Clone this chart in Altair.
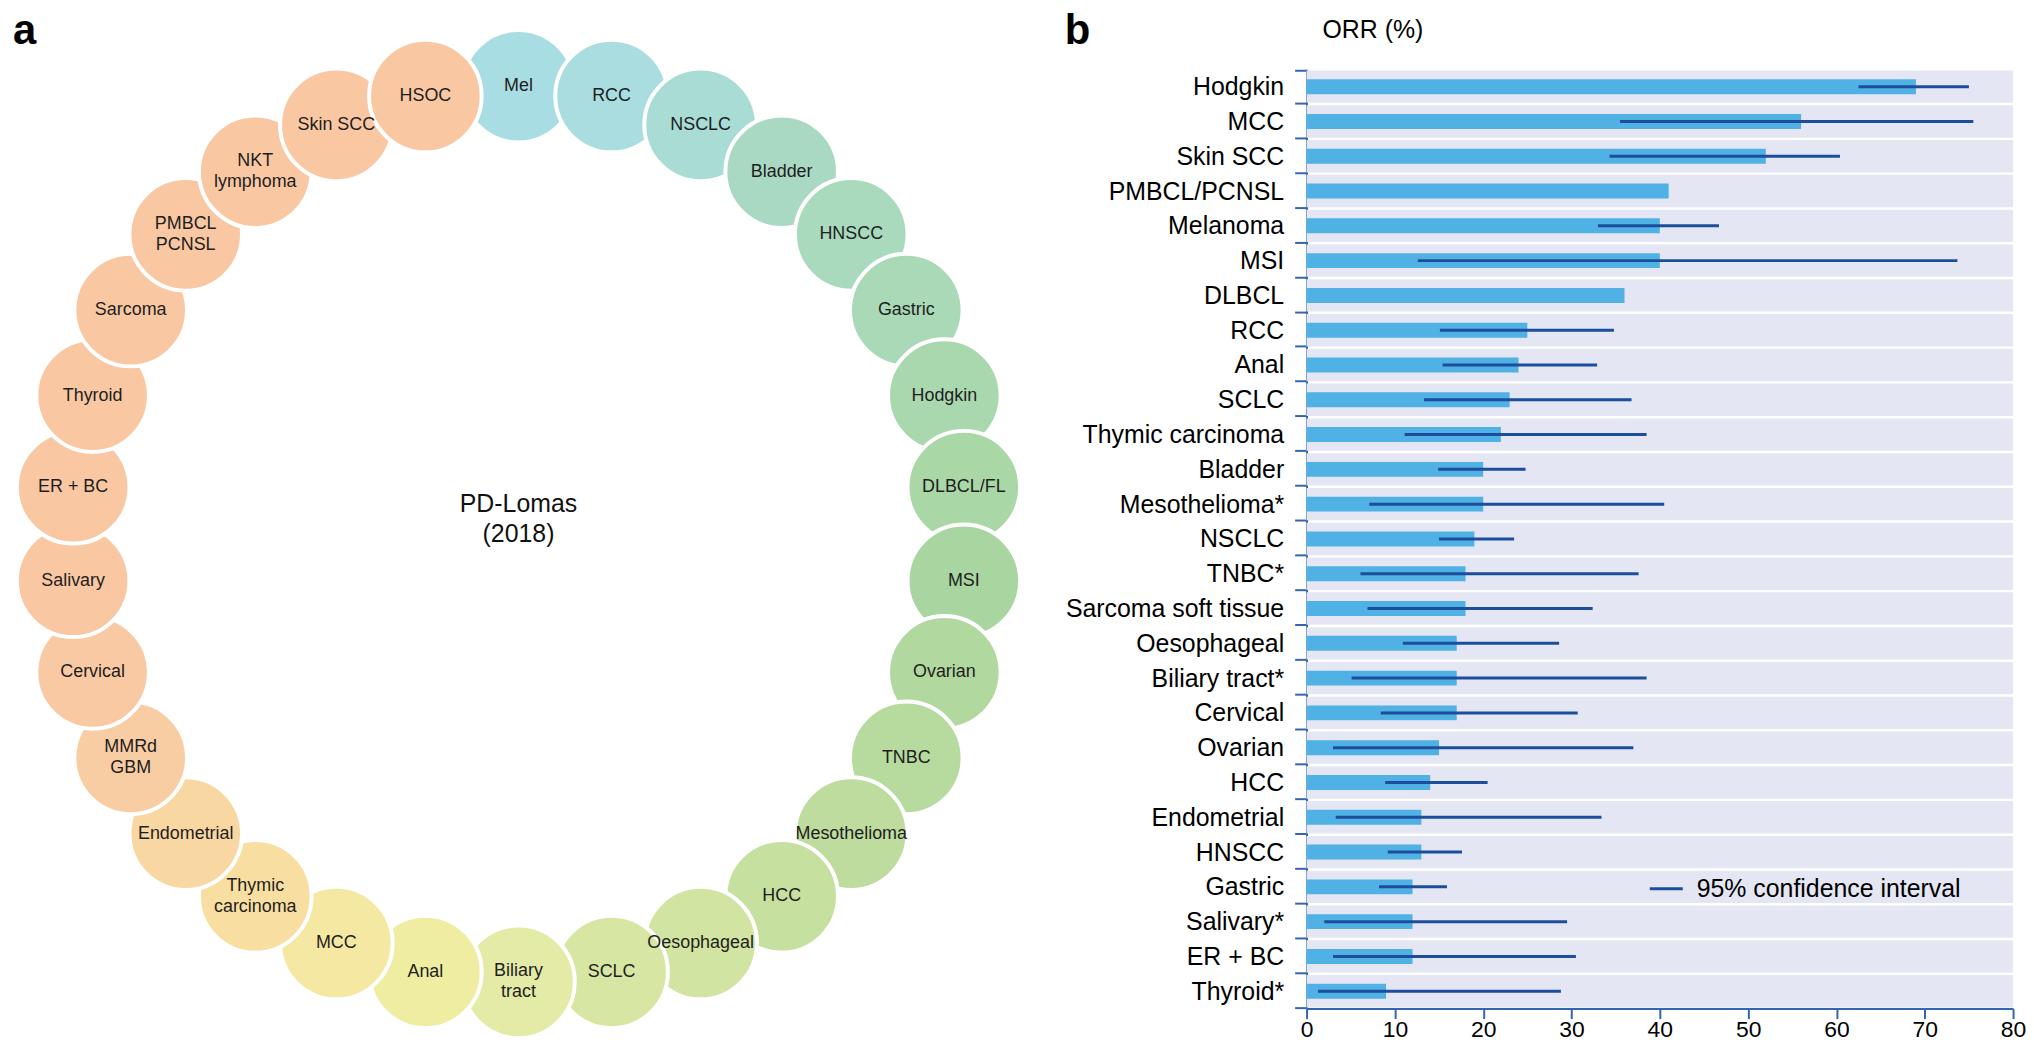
import altair as alt
import pandas as pd

# ---------------- Panel a: tumour ring ----------------
ring_labels = ["Mel", "RCC", "NSCLC", "Bladder", "HNSCC", "Gastric", "Hodgkin",
               "DLBCL/FL", "MSI", "Ovarian", "TNBC", "Mesothelioma", "HCC",
               "Oesophageal", "SCLC", "Biliary\ntract", "Anal", "MCC",
               "Thymic\ncarcinoma", "Endometrial", "MMRd\nGBM", "Cervical",
               "Salivary", "ER + BC", "Thyroid", "Sarcoma", "PMBCL\nPCNSL",
               "NKT\nlymphoma", "Skin SCC", "HSOC"]
ring_colors = ["#a8dde3", "#a9dde0", "#a8dcd4", "#a9d9c3", "#a9dabd", "#a9d9b6",
               "#a9d8ae", "#a9d7a6", "#a8d5a0", "#b1d89f", "#b7da9f", "#bddc9e",
               "#c6e0a0", "#d1e4a1", "#d7e7a3", "#e3eba6", "#eeeda2", "#f5e8a2",
               "#f8dfa1", "#f9d7a2", "#f9cda4", "#f9c9a4", "#f9c8a3", "#f9c8a3",
               "#f9c8a3", "#f9c8a3", "#f9c8a3", "#f9c8a3", "#f9c8a3", "#f9c8a3"]
center_label = ["PD-Lomas", "(2018)"]

# ---------------- Panel b: ORR bars ----------------
tumours = ["Hodgkin", "MCC", "Skin SCC", "PMBCL/PCNSL", "Melanoma", "MSI", "DLBCL",
           "RCC", "Anal", "SCLC", "Thymic carcinoma", "Bladder", "Mesothelioma*",
           "NSCLC", "TNBC*", "Sarcoma soft tissue", "Oesophageal", "Biliary tract*",
           "Cervical", "Ovarian", "HCC", "Endometrial", "HNSCC", "Gastric",
           "Salivary*", "ER + BC", "Thyroid*"]
orr = [69, 56, 52, 41, 40, 40, 36, 25, 24, 23, 22, 20, 20, 19, 18, 18, 17, 17, 17,
       15, 14, 13, 13, 12, 12, 12, 9]
ci_low = [62.5, 35.5, 34.3, None, 33.0, 12.6, None, 15.1, 15.4, 13.3, 11.1, 14.9,
          7.1, 15.0, 6.1, 6.9, 10.9, 5.1, 8.4, 3.0, 8.9, 3.3, 9.2, 8.2, 2.0, 3.0, 1.3]
ci_high = [75.0, 75.5, 60.4, None, 46.7, 73.7, None, 34.8, 32.9, 36.8, 38.5, 24.8,
           40.5, 23.5, 37.6, 32.4, 28.6, 38.5, 30.7, 37.0, 20.5, 33.4, 17.6, 15.9,
           29.5, 30.5, 28.8]
x_ticks = [0, 10, 20, 30, 40, 50, 60, 70, 80]
ci_name = "95% confidence interval"
x_title = "ORR (%)"

FONT = "Liberation Sans"
AX_BLUE = "#3466b0"
LINE_H = 21
H = 944

# ---------- left panel ----------
n = len(ring_labels)
ring_df = pd.DataFrame({"label": ring_labels, "colour": ring_colors,
                        "idx": list(range(n)),
                        "lines": [len(s.split("\n")) for s in ring_labels]})

xs = alt.Scale(domain=[-1.1289, 1.1822], nice=False, zero=False)
ys = alt.Scale(domain=[-1.0600, 1.0378], nice=False, zero=False)
xe = alt.X("cx:Q", scale=xs, axis=None)
ye = alt.Y("cy:Q", scale=ys, axis=None)

base_ring = alt.Chart(ring_df).transform_calculate(
    ang=f"PI/2 - datum.idx*2*PI/{n}"
).transform_calculate(
    cx="cos(datum.ang)", cy="sin(datum.ang)"
)

circles = base_ring.mark_circle(size=12800, opacity=1, stroke="white",
                                strokeWidth=4).encode(
    x=xe, y=ye, color=alt.Color("colour:N", scale=None))
text1 = base_ring.transform_filter("datum.lines == 1").mark_text(
    font=FONT, fontSize=18, color="#1e1e1e").encode(x=xe, y=ye, text="label:N")
text2 = base_ring.transform_filter("datum.lines == 2").mark_text(
    font=FONT, fontSize=18, color="#1e1e1e", lineBreak="\n", lineHeight=LINE_H,
    dy=-LINE_H / 2).encode(x=xe, y=ye, text="label:N")

center_df = pd.DataFrame({"t": ["\n".join(center_label)], "cx": [0.0], "cy": [0.0]})
center = alt.Chart(center_df).mark_text(font=FONT, fontSize=25, lineHeight=30,
                                        lineBreak="\n", dy=-30,
                                        color="#111111").encode(
    x=xe, y=ye, text="t:N")
letter_a = alt.Chart(pd.DataFrame({"t": ["a"]})).mark_text(
    font=FONT, fontSize=42, fontWeight="bold", align="left", baseline="top",
    color="black").encode(x=alt.value(0), y=alt.value(-58), text="t:N")

left = alt.layer(circles, text1, text2, center, letter_a).properties(
    width=1040, height=H)

# ---------- right panel ----------
df = pd.DataFrame({"tumour": tumours, "orr": orr, "lo": ci_low, "hi": ci_high,
                   "ci": ci_name})

xsc = alt.Scale(domain=[x_ticks[0], x_ticks[-1]], nice=False, zero=True)
xax = alt.Axis(values=x_ticks, title=None, grid=False, domainColor=AX_BLUE,
               domainWidth=2, tickColor=AX_BLUE, tickWidth=2, tickSize=10,
               labelFontSize=23, labelFont=FONT, labelColor="black",
               labelPadding=0, labelFlush=False)
y_enc = alt.Y("tumour:N", sort=tumours,
              scale=alt.Scale(paddingInner=0.07, paddingOuter=0.035),
              axis=alt.Axis(title=None, tickBand="extent", domainColor=AX_BLUE,
                            domainWidth=2, tickColor=AX_BLUE, tickWidth=2,
                            tickSize=12, labelFontSize=25, labelFont=FONT,
                            labelColor="black", labelPadding=11, labelLimit=400))

bg = alt.Chart(df).transform_calculate(
    bg_lo=str(x_ticks[0]), bg_hi=str(x_ticks[-1])
).mark_bar(color="#e4e7f3").encode(
    y=y_enc,
    x=alt.X("bg_lo:Q", scale=xsc, axis=xax),
    x2="bg_hi:Q",
)
bars = alt.Chart(df).mark_bar(size=15, color="#4fb1e4").encode(
    y=y_enc,
    x=alt.X("orr:Q", scale=xsc, axis=xax),
)
rules = alt.Chart(df).mark_rule(strokeWidth=3).encode(
    y=y_enc,
    x=alt.X("lo:Q", scale=xsc, axis=xax),
    x2="hi:Q",
    color=alt.Color("ci:N", scale=alt.Scale(range=["#1d4e9b"]),
                    legend=alt.Legend(title=None, orient="none", legendX=343,
                                      legendY=805, symbolType="stroke",
                                      symbolStrokeWidth=3, symbolSize=1100,
                                      labelFontSize=25, labelFont=FONT,
                                      labelColor="black", labelOffset=12,
                                      padding=0, labelLimit=500)),
)
orr_title = alt.Chart(pd.DataFrame({"t": [x_title]})).mark_text(
    font=FONT, fontSize=25, align="left", baseline="middle",
    color="black").encode(x=alt.value(16), y=alt.value(-39), text="t:N")
letter_b = alt.Chart(pd.DataFrame({"t": ["b"]})).mark_text(
    font=FONT, fontSize=42, fontWeight="bold", align="left", baseline="top",
    color="black").encode(x=alt.value(-243), y=alt.value(-58), text="t:N")

right = alt.layer(bg, bars, rules, orr_title, letter_b).properties(
    width=710, height=H)

chart = alt.hconcat(left, right, spacing=260, bounds="flush").resolve_scale(
    color="independent"
).properties(
    padding=0
).configure(font=FONT).configure_view(stroke="transparent", strokeWidth=0)

chart.save("out.html", embed_options={"renderer": "svg", "actions": False})
